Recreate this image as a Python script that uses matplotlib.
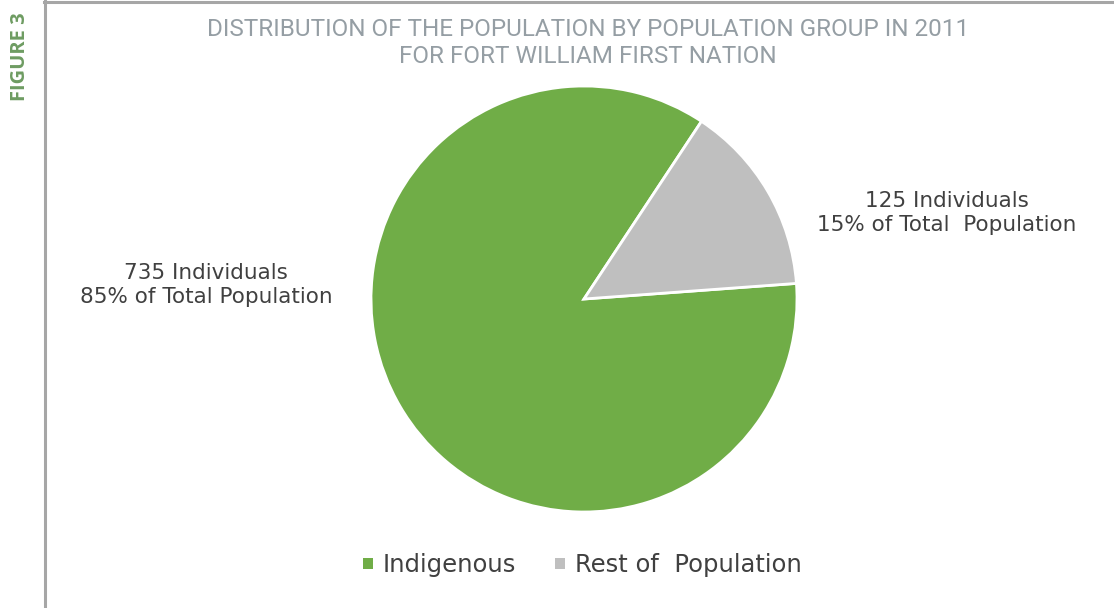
import matplotlib
matplotlib.use("Agg")
import matplotlib.pyplot as plt
from matplotlib.lines import Line2D
from matplotlib.patches import Rectangle

categories = ["Indigenous", "Rest of  Population"]
values = [735, 125]
colors = ["#70AD47", "#BFBFBF"]
label_texts = ["735 Individuals\n85% of Total Population",
               "125 Individuals\n15% of Total  Population"]
title = "DISTRIBUTION OF THE POPULATION BY POPULATION GROUP IN 2011\nFOR FORT WILLIAM FIRST NATION"

W, H = 1114, 608
fig = plt.figure(figsize=(W / 100, H / 100), dpi=100)
fig.patch.set_facecolor("white")

# frame lines
fig.add_artist(Line2D([45 / W, 45 / W], [0, 1 - 1 / H], color="#A6A6A6", lw=2.2, transform=fig.transFigure))
fig.add_artist(Line2D([44 / W, 1], [1 - 2 / H, 1 - 2 / H], color="#A6A6A6", lw=2.2, transform=fig.transFigure))

fig.text(20 / W, 1 - 57 / H, "FIGURE 3", rotation=90, ha="center", va="center",
         color="#6E9C62", fontsize=14.5, fontweight="bold", family=["Open Sans", "DejaVu Sans"])

fig.text(588 / W, 1 - 43 / H, title, ha="center", va="center", color="#959EA4",
         fontsize=17.5, fontweight="normal", linespacing=1.2, family=["Roboto", "DejaVu Sans"])

cx, cy, r = 584, 299, 213
ax = fig.add_axes([(cx - r) / W, 1 - (cy + r) / H, 2 * r / W, 2 * r / H])
wedges, _ = ax.pie(values, colors=colors, startangle=4.2, counterclock=False,
                   wedgeprops=dict(edgecolor="white", linewidth=2))
ax.set_xlim(-1, 1)
ax.set_ylim(-1, 1)
ax.axis("off")

lab_font = ["DejaVu Sans"]
fig.text(206 / W, 1 - 285 / H, label_texts[0], ha="center", va="center", color="#404040",
         fontsize=15.5, linespacing=1.2, family=lab_font)
fig.text(947 / W, 1 - 213 / H, label_texts[1], ha="center", va="center", color="#404040",
         fontsize=15.5, linespacing=1.2, family=lab_font)

handles = [Rectangle((0, 0), 1, 1, facecolor=c, edgecolor="none") for c in colors]
leg = fig.legend(handles, categories, loc="center", bbox_to_anchor=(582 / W, 1 - 565 / H),
                 ncol=2, frameon=False, handlelength=0.42, handleheight=0.3, handletextpad=0.4,
                 columnspacing=1.6, prop=dict(family=lab_font, size=17.5))
for t in leg.get_texts():
    t.set_color("#404040")

fig.savefig("out.png", dpi=100, facecolor="white")
